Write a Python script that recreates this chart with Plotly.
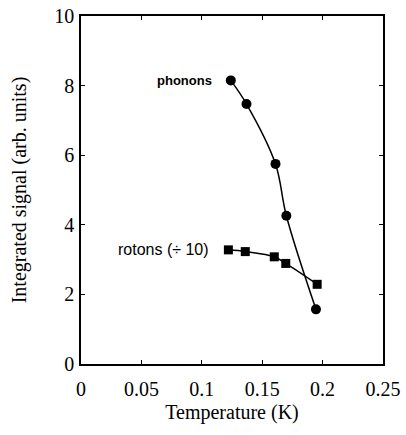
import plotly.graph_objects as go

phonon_T = [0.124, 0.137, 0.161, 0.170, 0.1945]
phonon_S = [8.15, 7.47, 5.75, 4.26, 1.57]
roton_T = [0.122, 0.136, 0.160, 0.1695, 0.1955]
roton_S = [3.28, 3.23, 3.08, 2.89, 2.29]
x_ticks = [0, 0.05, 0.1, 0.15, 0.2, 0.25]
x_labels = ["0", "0.05", "0.1", "0.15", "0.2", "0.25"]
y_ticks = [0, 2, 4, 6, 8, 10]

fig = go.Figure()
fig.add_trace(go.Scatter(x=phonon_T, y=phonon_S, mode="lines+markers",
                         line=dict(color="black", width=1.5, shape="spline", smoothing=1.0),
                         marker=dict(symbol="circle", size=10, color="black")))
fig.add_trace(go.Scatter(x=roton_T, y=roton_S, mode="lines+markers",
                         line=dict(color="black", width=1.5, shape="spline", smoothing=1.0),
                         marker=dict(symbol="square", size=9, color="black")))

fig.add_annotation(x=phonon_T[0], y=phonon_S[0], text="<b>phonons</b>", showarrow=False,
                   xanchor="right", xshift=-17, font=dict(family="Liberation Sans", size=13, color="black"))
fig.add_annotation(x=roton_T[0], y=roton_S[0], text="rotons (÷ 10)", showarrow=False,
                   xanchor="right", xshift=-17, font=dict(family="Liberation Sans", size=16, color="black"))

axis_common = dict(showgrid=False, zeroline=False, showline=True, linecolor="black", linewidth=1.5,
                   mirror="ticks", ticks="inside", ticklen=4, tickcolor="black", automargin=False,
                   tickfont=dict(family="Liberation Serif", size=20, color="black"))
fig.update_xaxes(range=[0, 0.25], tickvals=x_ticks, ticktext=x_labels, ticklabelstandoff=6,
                 title=dict(text="Temperature (K)", font=dict(family="Liberation Serif", size=20, color="black"), standoff=6),
                 **axis_common)
fig.update_yaxes(range=[0, 10], tickvals=y_ticks, ticklabelstandoff=1,
                 title=dict(text="Integrated signal (arb. units)", font=dict(family="Liberation Serif", size=20, color="black"), standoff=22),
                 **axis_common)
fig.update_layout(width=406, height=435, showlegend=False,
                  margin=dict(l=81, r=23, t=16, b=71),
                  plot_bgcolor="white", paper_bgcolor="white")
fig.write_html("out.html", config={"displayModeBar": False},
               post_script="document.body.style.margin='0';")
